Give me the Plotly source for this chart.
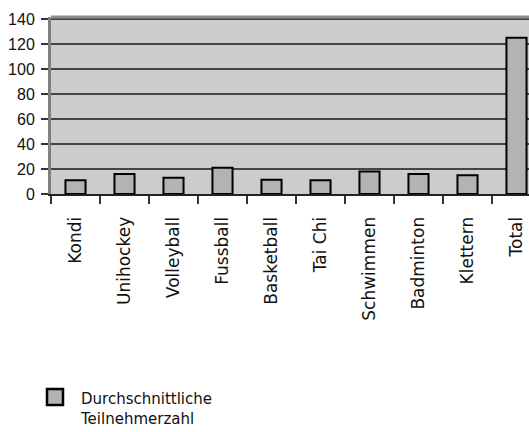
import plotly.graph_objects as go

# Average participant numbers per sport course
categories = ["Kondi", "Unihockey", "Volleyball", "Fussball", "Basketball",
              "Tai Chi", "Schwimmen", "Badminton", "Klettern", "Total"]
participants = [11, 16, 13, 21, 11.5, 11, 18, 16, 15, 125]
series_name = "Durchschnittliche<br>Teilnehmerzahl"
y_ticks = [0, 20, 40, 60, 80, 100, 120, 140]

W, H = 529, 432
ML, MT, MB = 51, 17, 238
PW, PH = W - ML, H - MT - MB


def px_x(x):
    return (x - ML) / PW


def px_y(y):
    return (H - MB - y) / PH


fig = go.Figure()
fig.add_trace(go.Bar(
    x=categories,
    y=participants,
    width=0.41,
    marker=dict(color="#b3b3b3", line=dict(color="#000000", width=2)),
    name=series_name,
    showlegend=False,
))

# Legend key drawn by hand: swatch plus a two-line label
fig.add_shape(type="rect", xref="paper", yref="paper",
              x0=px_x(47), x1=px_x(63), y0=px_y(389), y1=px_y(405),
              fillcolor="#b3b3b3", line=dict(color="#000000", width=2.5))
fig.add_annotation(xref="paper", yref="paper", x=px_x(79), y=px_y(389),
                   xanchor="left", yanchor="top", showarrow=False,
                   align="left", text=series_name, borderpad=0,
                   font=dict(family="DejaVu Sans", size=15, color="#111111"))

# Grey top border of the plot area
fig.add_shape(type="line", xref="paper", yref="paper", x0=0, x1=1, y0=1, y1=1,
              line=dict(color="#8c8c8c", width=3))

fig.update_layout(
    width=W, height=H,
    margin=dict(l=ML, r=0, t=MT, b=MB, pad=0),
    paper_bgcolor="#ffffff",
    plot_bgcolor="#cccccc",
    xaxis=dict(
        type="category",
        range=[-0.5, -0.5 + PW / 49.0],
        tickson="boundaries",
        ticks="outside", ticklen=8, tickwidth=1.5, tickcolor="#333333",
        showgrid=False,
        showline=True, linecolor="#222222", linewidth=2,
        tickangle=-90,
        ticklabelstandoff=14,
        tickfont=dict(family="DejaVu Sans", size=17, color="#111111"),
    ),
    yaxis=dict(
        range=[0, 141.6],
        tickvals=y_ticks,
        ticks="outside", ticklen=7, tickwidth=1.5, tickcolor="#333333",
        showgrid=True, gridcolor="#444444", gridwidth=1.5,
        zeroline=False,
        showline=True, linecolor="#808080", linewidth=3,
        ticklabelstandoff=3,
        tickfont=dict(family="Liberation Sans Narrow, Liberation Sans", size=16,
                      color="#111111"),
    ),
)

fig.write_html("out.html")
